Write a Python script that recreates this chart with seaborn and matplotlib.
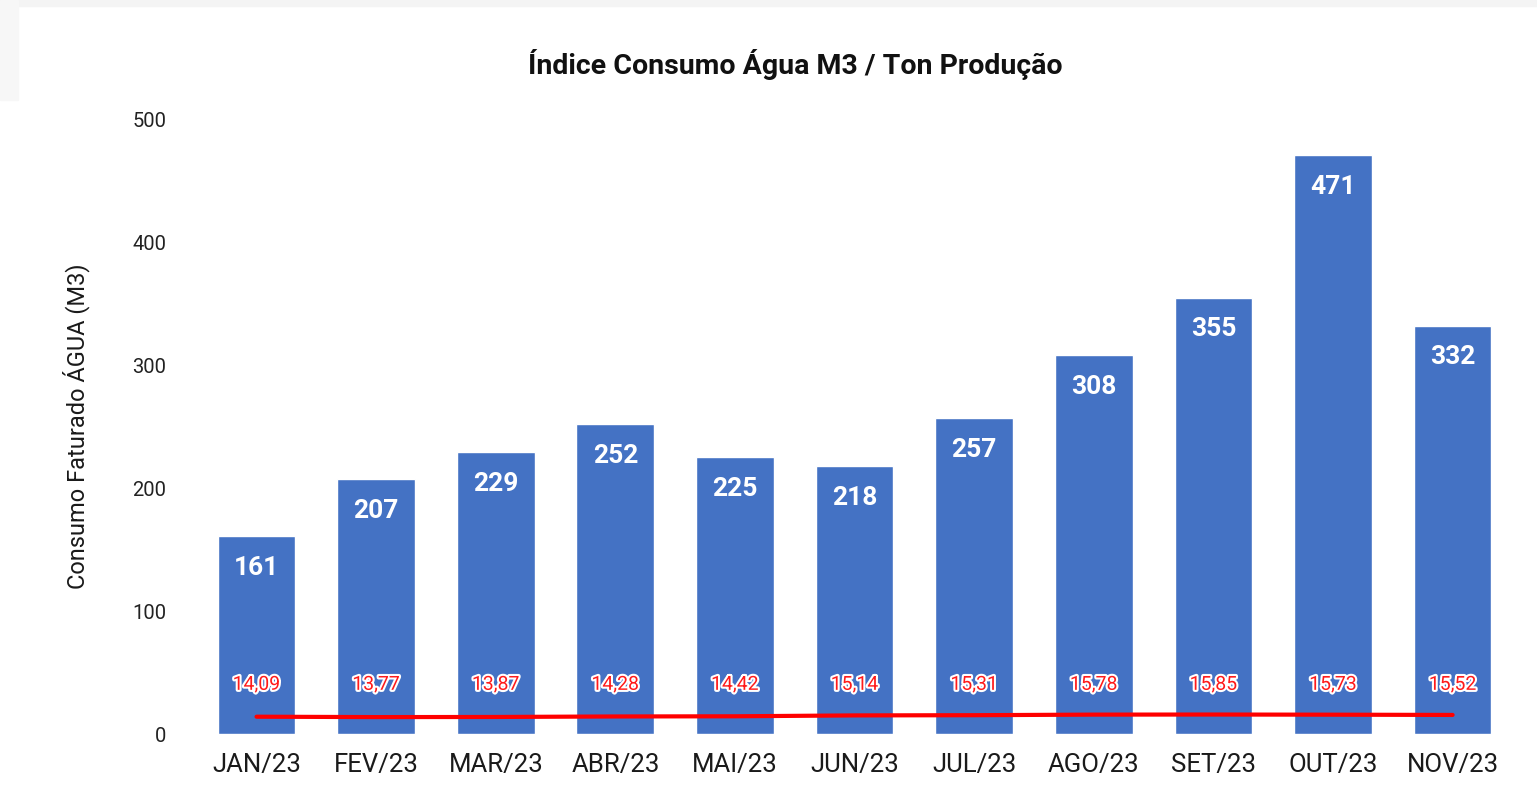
import numpy as np
import pandas as pd
import seaborn as sns
import matplotlib.pyplot as plt
import matplotlib.patheffects as pe
from matplotlib.patches import Rectangle

sns.set_style('white')
plt.rcParams['font.family'] = ['Roboto', 'DejaVu Sans']

meses = ['JAN/23', 'FEV/23', 'MAR/23', 'ABR/23', 'MAI/23', 'JUN/23',
         'JUL/23', 'AGO/23', 'SET/23', 'OUT/23', 'NOV/23']
consumo = [161, 207, 229, 252, 225, 218, 257, 308, 355, 471, 332]
indice = [14.09, 13.77, 13.87, 14.28, 14.42, 15.14, 15.31, 15.78, 15.85, 15.73, 15.52]

df = pd.DataFrame({'mes': meses, 'consumo': consumo, 'indice': indice})

fig = plt.figure(figsize=(15.37, 8.1), dpi=100)
# faixas cinzas da captura de tela
fig.patches.append(Rectangle((0, 1 - 6 / 810), 1, 6 / 810, transform=fig.transFigure,
                             color='#f4f4f4', zorder=0))
fig.patches.append(Rectangle((0, 1 - 100 / 810), 18 / 1537, 100 / 810, transform=fig.transFigure,
                             color='#f7f7f7', zorder=0))
ax = fig.add_axes([0.128, 0.0938, 0.856, 0.759])

sns.barplot(data=df, x='mes', y='consumo', color='#4472C4', saturation=1,
            width=0.65, ax=ax)
sns.lineplot(data=df, x='mes', y='indice', color='#ff0000', linewidth=3, ax=ax,
             sort=False)

for i, v in enumerate(consumo):
    ax.text(i, v - 16, str(v), ha='center', va='top', color='white',
            fontsize=19, fontweight='bold')
for i, v in enumerate(indice):
    ax.text(i, 40, f'{v:.2f}'.replace('.', ','), ha='center', va='center',
            color='#ff1a1a', fontsize=14,
            path_effects=[pe.withStroke(linewidth=3, foreground='white')])

ax.set_ylim(0, 500)
ax.set_xlim(-0.5, len(meses) - 0.5)
ax.set_yticks([0, 100, 200, 300, 400, 500])
ax.tick_params(axis='x', labelsize=18.5, colors='#1a1a1a', length=0, pad=14)
ax.tick_params(axis='y', labelsize=14.5, colors='#222222', length=0, pad=22)
ax.set_xlabel('')
ax.set_ylabel('Consumo Faturado ÁGUA (M3)', fontsize=17, color='#1a1a1a', labelpad=30)
sns.despine(ax=ax, left=True, bottom=True)

fig.text(795 / 1537, 1 - 65 / 810, 'Índice Consumo Água M3 / Ton Produção', ha='center',
         va='center', fontsize=20.5, fontweight='bold', color='#111111')

fig.savefig('out.png', dpi=100, facecolor='white')
